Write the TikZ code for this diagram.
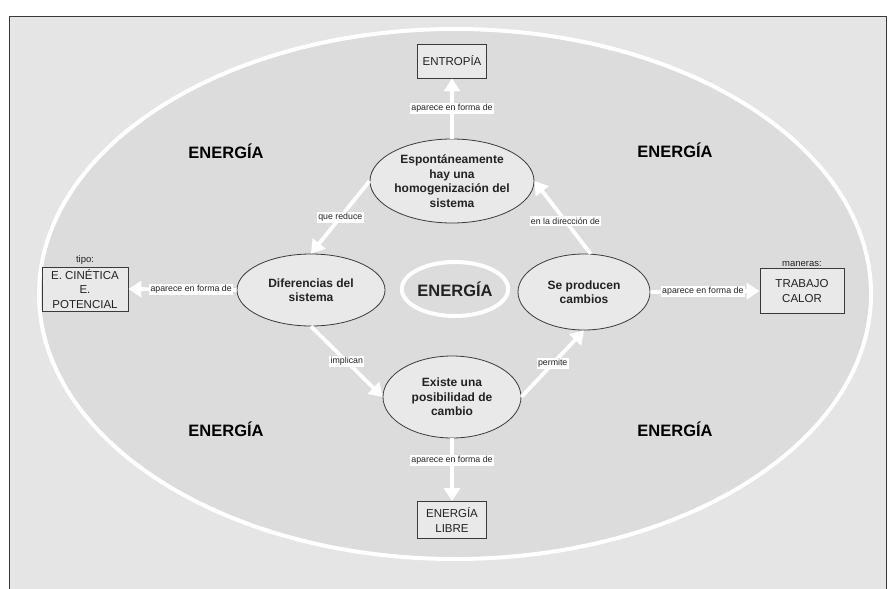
\documentclass[tikz,border=0pt]{standalone}
\usepackage{fontspec}
\setmainfont{Liberation Sans}
\usetikzlibrary{arrows.meta,positioning,shapes.geometric}
\definecolor{FondoGris}{HTML}{E5E5E5}
\definecolor{ElipseGris}{HTML}{DCDCDC}
\definecolor{NodoGris}{HTML}{E9E9E9}
\definecolor{BordeGris}{HTML}{3A3A3A}
\definecolor{TextoGris}{HTML}{222222}

\begin{document}
\begin{tikzpicture}[x=1pt,y=-1pt,
  idea/.style={ellipse,draw=BordeGris,fill=NodoGris,line width=0.8pt,inner sep=0pt,align=center,text=TextoGris,font=\fontsize{12}{14.5}\selectfont\bfseries},
  caja/.style={rectangle,draw=BordeGris,fill=NodoGris,line width=0.8pt,inner sep=0pt,align=center,text=TextoGris,font=\fontsize{11.5}{14.5}\selectfont},
  rotulo/.style={fill=white,inner sep=1.3pt,text=TextoGris,font=\fontsize{8.8}{9}\selectfont},
  flecha/.style={white,line width=3.8pt,-{Triangle[width=16pt,length=13pt]}},
  marca/.style={font=\fontsize{16.5}{16.5}\selectfont\bfseries}]
\useasboundingbox (0,0) rectangle (890,588);
\clip (0,0) rectangle (890,588);
\fill[white] (0,0) rectangle (890,588);
\draw[BordeGris,line width=0.8pt,fill=FondoGris] (9,16) rectangle (886,600);
\draw[white,line width=4pt,fill=ElipseGris] (455,294) ellipse [x radius=416,y radius=265];

\node[marca] (e1) at (226,151) {ENERGÍA};
\node[marca] (e2) at (675,150) {ENERGÍA};
\node[marca] (e3) at (226,429) {ENERGÍA};
\node[marca] (e4) at (675,429) {ENERGÍA};

\node[idea,minimum width=164,minimum height=84] (homog) at (452,181) {Espontáneamente\\hay una\\homogenización del\\sistema};
\node[idea,minimum width=148,minimum height=72] (difer) at (311,290) {Diferencias del\\sistema};
\node[idea,minimum width=132,minimum height=76] (cambios) at (584,292) {Se producen\\cambios};
\node[idea,minimum width=138,minimum height=82] (posib) at (452,397) {Existe una\\posibilidad de\\cambio};
\node[ellipse,draw=white,line width=4pt,fill=ElipseGris,minimum width=106,minimum height=54,inner sep=0pt,marca,text=TextoGris] (centro) at (455,289) {ENERGÍA};

\node[caja,minimum width=69,minimum height=34] (entropia) at (452,61) {ENTROPÍA};
\node[caja,minimum width=86,minimum height=44] (cinetica) at (85,289) {E. CINÉTICA\\E.\\POTENCIAL};
\node[caja,minimum width=84,minimum height=45] (trabajo) at (802,291) {TRABAJO\\CALOR};
\node[caja,minimum width=69,minimum height=37] (libre) at (452,520) {ENERGÍA\\LIBRE};
\node[above=1.5pt of cinetica,inner sep=0pt,text=TextoGris,font=\fontsize{9.5}{10}\selectfont] (tipo) {tipo:};
\node[above=1.5pt of trabajo,inner sep=0pt,text=TextoGris,font=\fontsize{9.5}{10}\selectfont] (maneras) {maneras:};

\draw[flecha] (homog.north) -- (entropia.south) node[midway,rotulo] {aparece en forma de};
\draw[flecha] (homog.west) -- (difer.north) node[midway,rotulo] {que reduce};
\draw[flecha] (cambios.80) -- (homog.east) node[pos=0.45,rotulo] {en la dirección de};
\draw[flecha] (difer.west) -- (cinetica.east) node[pos=0.42,rotulo] {aparece en forma de};
\draw[flecha] (cambios.east) -- (trabajo.west) node[pos=0.48,rotulo] {aparece en forma de};
\draw[flecha] (difer.south) -- (posib.west) node[midway,rotulo] {implican};
\draw[flecha] (posib.east) -- (cambios.south) node[midway,rotulo] {permite};
\draw[flecha] (posib.south) -- (libre.north) node[pos=0.35,rotulo] {aparece en forma de};
\end{tikzpicture}
\end{document}
